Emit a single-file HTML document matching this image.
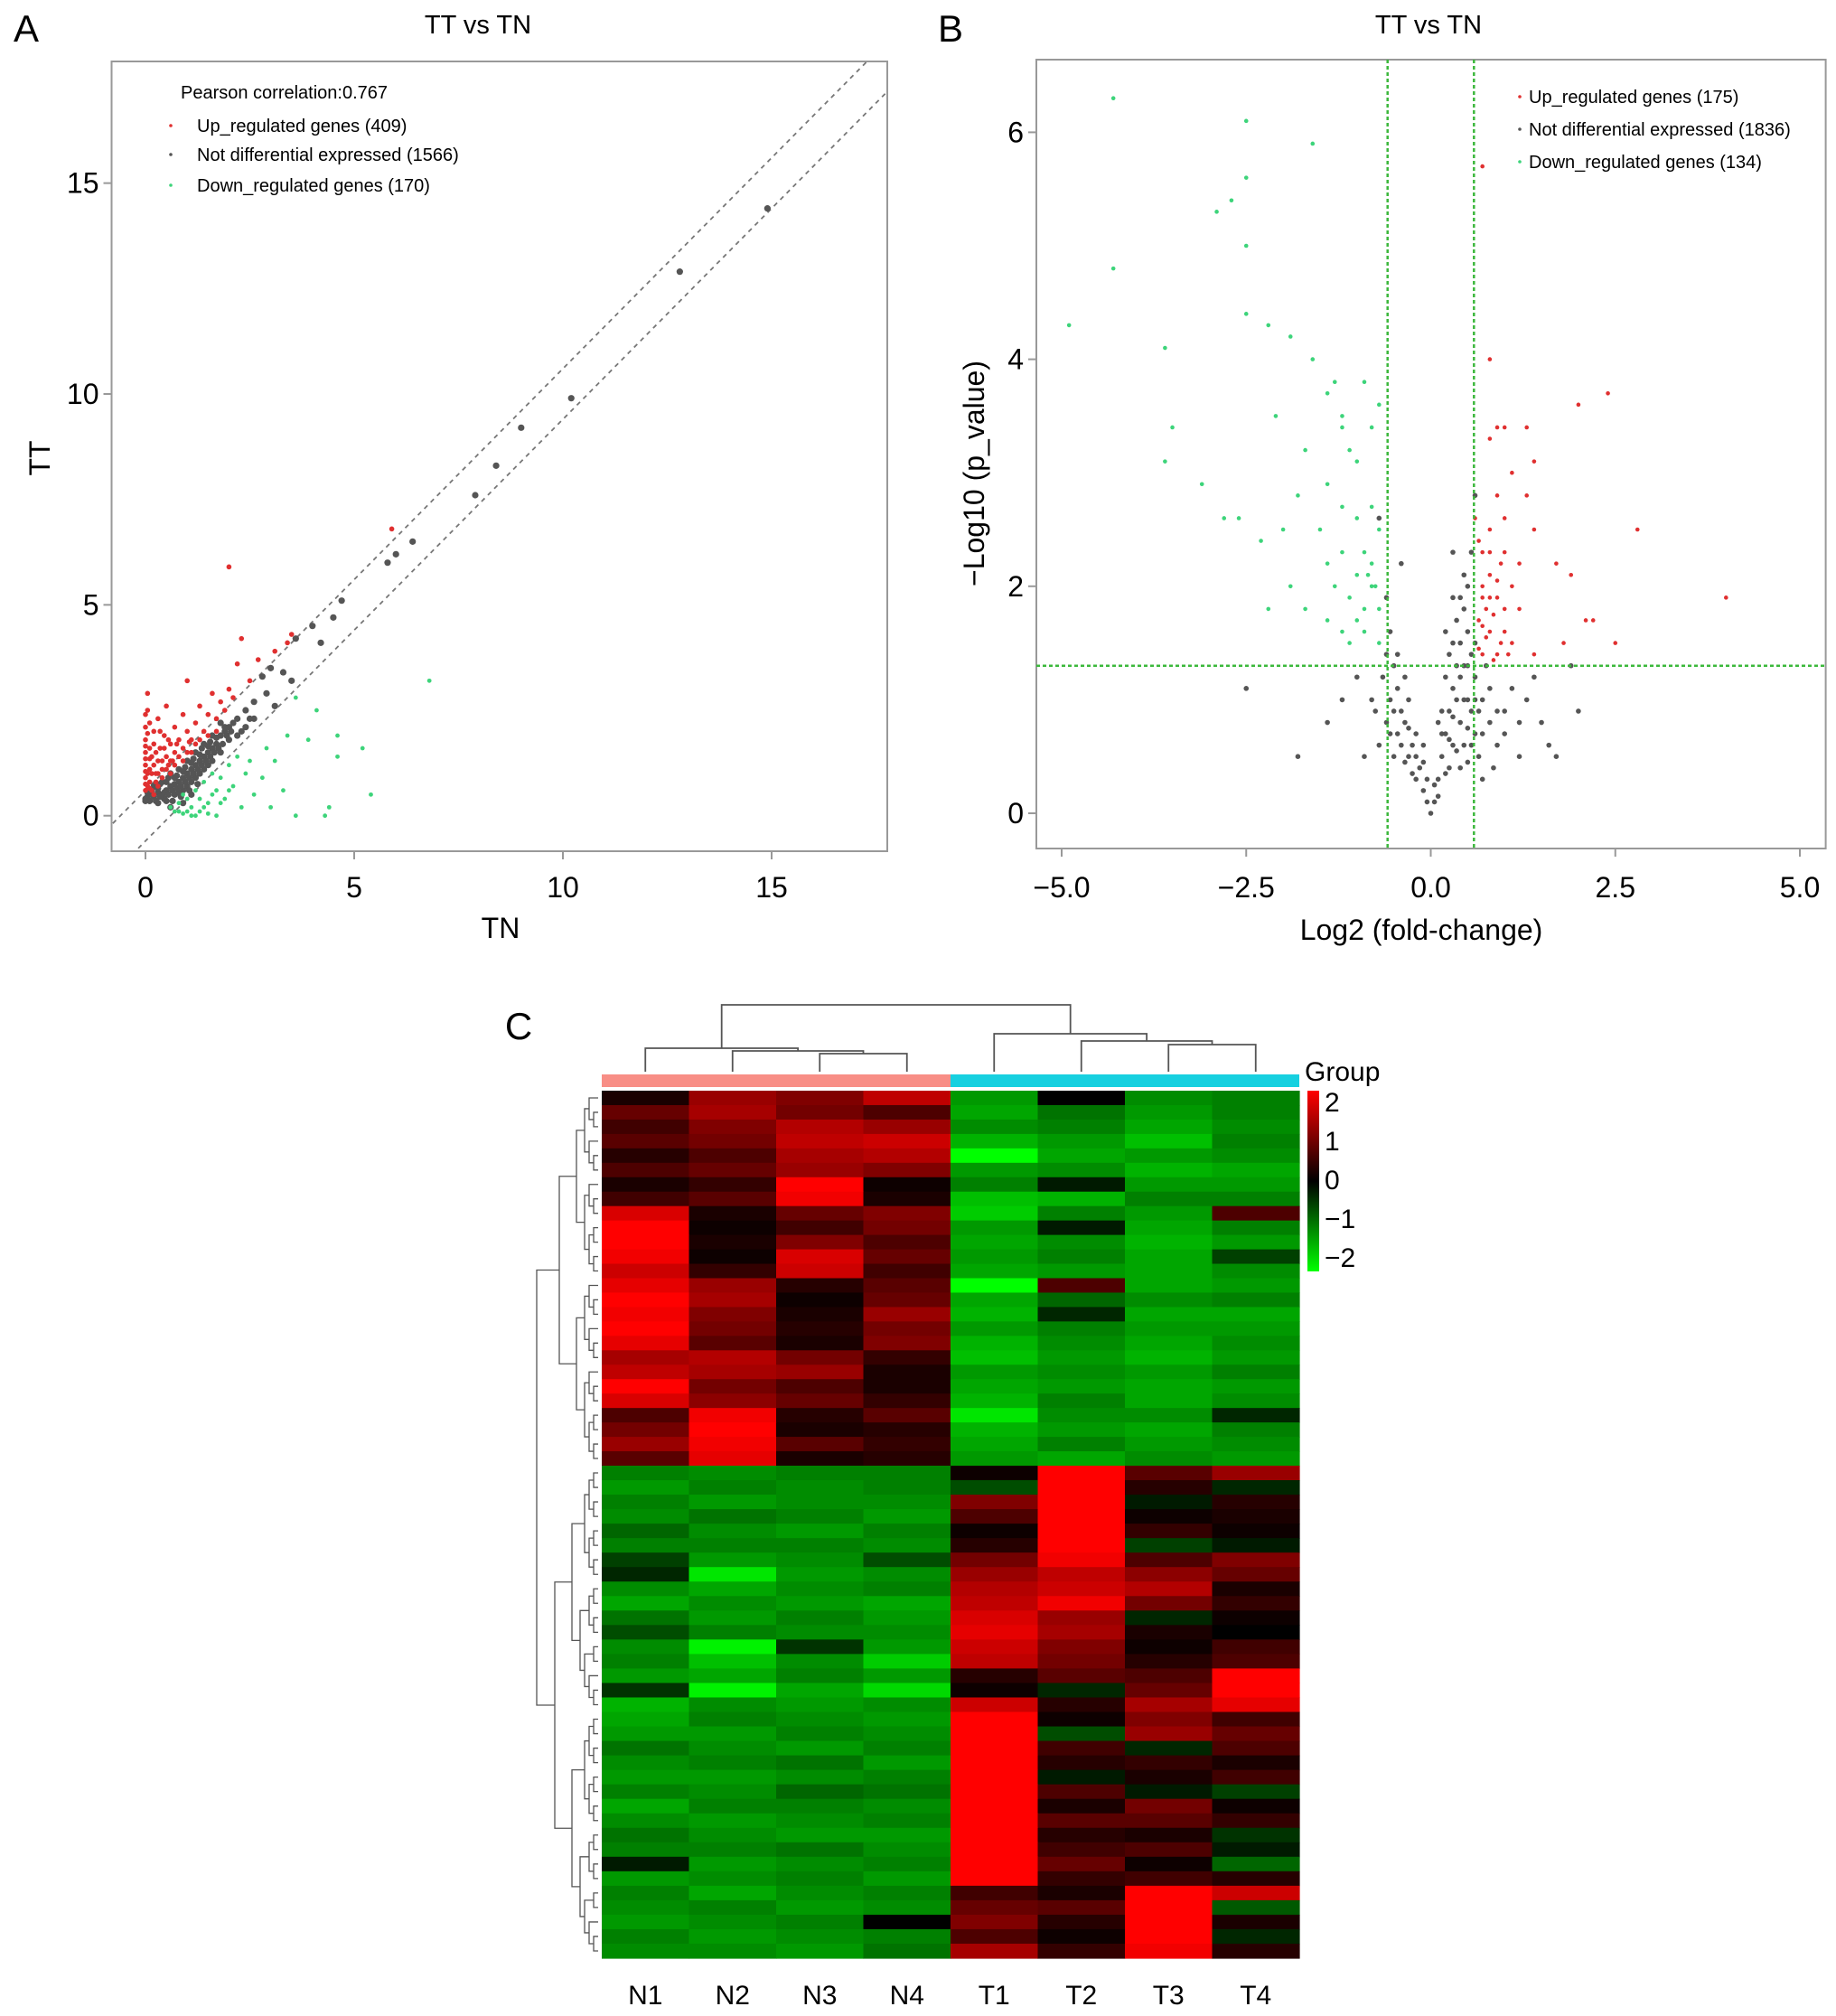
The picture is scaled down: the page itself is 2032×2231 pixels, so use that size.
<!DOCTYPE html>
<html><head><meta charset="utf-8"><style>
html,body{margin:0;padding:0;background:#fff}
svg{display:block;font-family:"Liberation Sans",Arial,sans-serif}
</style></head><body>
<svg id="fig" width="2032" height="2231" viewBox="0 0 2032 2231" xmlns="http://www.w3.org/2000/svg">
<rect width="2032" height="2231" fill="#fff"/>
<g id="pA"></g>
<g id="pB"></g>
<g id="pC"></g>
</svg>
<script>
// ===== Panel A data =====
const aXTicks=[0,5,10,15];
const aYTicks=[0,5,10,15];
const aUp=[[0,0.6],[0,0.9],[0,1.2],[0,1.5],[0,1.8],[0,2.1],[0.05,2.5],[0.05,2.9],[0.1,0.8],[0.1,1.1],[0.15,1.4],[0.2,1.7],[0.2,2.0],[0.25,1.0],[0.3,1.3],[0.3,2.3],[0.35,1.6],[0.4,1.1],[0.45,1.9],[0.5,1.4],[0.5,2.6],[0.55,1.2],[0.6,1.7],[0.7,2.1],[0.7,1.5],[0.8,1.8],[0.9,2.4],[0.9,1.6],[1.0,3.2],[1.0,2.0],[1.1,1.8],[1.2,2.2],[1.3,2.6],[1.4,2.0],[1.5,2.4],[1.6,2.9],[1.7,2.3],[1.8,2.7],[1.9,2.5],[2.0,5.9],[2.0,3.0],[2.1,2.8],[2.2,3.6],[2.3,4.2],[2.5,3.2],[2.7,3.7],[3.1,3.9],[3.5,4.3],[3.4,4.1],[5.9,6.8],[0.15,0.6],[0.3,0.7],[0.4,0.9],[0.6,1.0],[0.2,0.5],[0.05,1.0],[0.1,1.6],[0.2,1.2],[0.35,2.0],[0.65,1.3],[0.8,1.4],[1.2,1.7],[0.0,0.75],[0.1,1.35],[0.0,2.4],[0.05,0.7],[0.1,0.65],[0.15,1.0],[0.25,0.8],[0.3,1.0],[0.4,1.3],[0.5,1.1],[0.6,1.3],[0.7,1.2],[0.9,1.3],[1.0,1.5],[1.1,1.5],[1.3,1.8],[1.5,1.9],[1.7,2.0],[0.25,1.5],[0.45,1.6],[0.55,1.8],[0.75,1.7],[1.05,1.75],[0.0,1.05],[0.0,1.35],[0.0,1.65],[0.05,1.95],[0.1,2.2]];
const aNot=[[0,0.4],[0.05,0.45],[0.1,0.5],[0.2,0.45],[0.3,0.55],[0.4,0.5],[0.5,0.6],[0.6,0.7],[0.7,0.75],[0.8,0.8],[0.9,0.9],[1.0,1.0],[1.1,1.1],[1.2,1.2],[1.3,1.3],[1.4,1.4],[1.5,1.5],[1.6,1.6],[1.7,1.7],[1.8,1.9],[1.9,2.0],[2.0,2.1],[2.1,2.2],[2.2,2.3],[2.4,2.5],[0.3,0.3],[0.5,0.35],[0.6,0.2],[0.7,0.5],[0.8,0.55],[0.9,0.6],[1.0,0.7],[1.1,0.8],[1.2,0.9],[1.3,1.0],[1.4,1.1],[1.5,1.2],[1.6,1.3],[1.8,1.5],[2.0,1.8],[0.4,0.8],[0.6,1.0],[0.8,1.1],[1.0,1.3],[1.2,1.5],[1.4,1.7],[1.6,1.9],[1.8,2.2],[0.2,0.7],[0.35,0.75],[0.15,0.6],[0.45,0.4],[0.55,0.9],[0.75,0.95],[0.95,1.15],[1.15,1.35],[1.35,1.6],[1.55,1.75],[2.3,2.0],[2.6,2.7],[2.8,3.3],[3.0,3.5],[3.3,3.4],[3.6,4.2],[4.0,4.5],[4.2,4.1],[4.5,4.7],[4.7,5.1],[5.8,6.0],[6.0,6.2],[6.4,6.5],[7.9,7.6],[8.4,8.3],[9.0,9.2],[10.2,9.9],[12.8,12.9],[14.9,14.4],[3.1,2.6],[2.6,2.3],[3.5,3.2],[2.9,2.9],[0.9,0.3],[1.1,0.5],[0.1,0.35],[0.25,0.35],[0.35,0.45],[0.45,0.55],[0.55,0.5],[0.65,0.6],[0.75,0.65],[0.85,0.7],[0.95,0.8],[1.05,0.9],[1.15,1.0],[1.25,1.1],[1.35,1.2],[1.45,1.3],[1.55,1.4],[1.65,1.5],[1.75,1.6],[1.85,1.7],[1.95,1.9],[2.05,2.0],[0.5,0.8],[0.7,0.9],[0.9,1.05],[1.1,1.25],[1.3,1.45],[1.5,1.65],[1.7,1.85],[1.9,2.1],[0.65,0.35],[0.85,0.45],[1.05,0.6],[1.25,0.75],[0.3,0.65],[0.0,0.35],[0.05,0.55],[2.2,1.9],[2.4,2.1],[2.5,2.3]];
const aDown=[[0.7,0.1],[0.8,0.3],[0.9,0.05],[1.0,0.4],[1.1,0.2],[1.2,0.6],[1.3,0.1],[1.4,0.8],[1.5,0.3],[1.6,0.5],[1.7,0.0],[1.8,0.9],[1.9,0.4],[2.0,1.2],[2.1,0.7],[2.2,1.4],[2.3,0.2],[2.4,1.0],[2.5,1.3],[2.6,0.5],[2.8,0.9],[3.0,0.2],[3.1,1.3],[3.3,0.6],[3.4,1.9],[3.6,2.8],[3.9,1.8],[4.1,2.5],[4.4,0.2],[4.6,1.4],[4.6,1.9],[5.4,0.5],[6.8,3.2],[5.2,1.6],[0.6,0.2],[1.2,0.0],[1.6,1.0],[2.9,1.6],[4.3,0.0],[3.6,0.0],[1.0,0.1],[1.4,0.2],[1.7,0.6],[0.9,0.5],[1.3,0.4],[0.8,0.1],[1.1,0.0],[1.5,0.05],[1.8,0.3],[2.0,0.6]];
// ===== Panel B data =====
const bXTicks=[-5,-2.5,0,2.5,5];
const bYTicks=[0,2,4,6];
const bUp=[[0.7,5.7],[0.8,4.0],[2.4,3.7],[2.0,3.6],[1.0,3.4],[1.3,3.4],[0.8,3.3],[0.9,3.4],[1.4,3.1],[1.1,3.0],[1.3,2.8],[0.9,2.8],[0.6,2.6],[0.8,2.5],[1.0,2.6],[1.4,2.5],[2.8,2.5],[0.7,2.3],[1.0,2.3],[1.2,2.2],[1.7,2.2],[0.8,2.1],[1.1,2.0],[1.9,2.1],[0.7,1.9],[0.9,1.9],[1.0,1.8],[1.2,1.8],[4.0,1.9],[0.65,1.7],[0.8,1.6],[1.0,1.6],[2.1,1.7],[2.2,1.7],[1.8,1.5],[2.5,1.5],[0.7,1.4],[0.9,1.4],[1.1,1.5],[1.4,1.4],[0.75,1.8],[0.85,1.35],[0.7,2.0],[0.75,1.55],[0.95,2.2],[1.05,1.4],[0.65,2.4],[0.8,1.9],[0.7,1.65],[0.85,1.75],[0.95,1.5],[0.65,1.45],[0.8,2.3],[0.9,2.05]];
const bNot=[[0,0],[0.05,0.1],[-0.05,0.1],[0.1,0.3],[-0.1,0.2],[0.15,0.5],[-0.15,0.4],[0.2,0.7],[-0.2,0.3],[0.25,0.9],[-0.25,0.6],[0.3,1.1],[-0.3,0.5],[0.35,1.3],[-0.35,0.8],[0.4,1.5],[-0.4,0.9],[0.45,1.8],[-0.45,1.1],[0.5,2.0],[-0.5,1.3],[0.55,2.3],[-0.55,1.6],[0.6,2.8],[-0.6,1.9],[0.3,0.6],[0.4,0.8],[0.5,1.0],[0.6,1.2],[0.7,1.0],[0.8,0.8],[0.9,0.9],[1.0,0.7],[1.1,1.1],[1.2,0.5],[1.3,1.0],[1.5,0.8],[1.7,0.5],[2.0,0.9],[1.9,1.3],[-0.6,0.8],[-0.7,0.6],[-0.8,1.0],[-0.9,0.5],[-1.0,1.2],[-1.2,1.0],[-1.4,0.8],[-1.8,0.5],[-2.5,1.1],[-0.7,2.6],[-0.4,2.2],[0.3,2.3],[0.2,1.6],[0.1,0.8],[-0.1,0.6],[0.25,0.4],[0.45,0.6],[0.55,0.9],[0.65,0.5],[0.35,1.7],[0.5,1.6],[-0.5,0.5],[-0.65,1.2],[-0.75,0.9],[0.75,1.3],[0.85,0.4],[1.6,0.6],[1.4,1.2],[0.2,1.2],[0.3,1.5],[0.4,1.9],[0.45,1.3],[0.15,0.9],[-0.2,0.7],[-0.3,1.0],[-0.45,0.7],[0.6,0.7],[0.7,0.3],[0.55,1.4],[0.35,1.0],[0.05,0.25],[-0.05,0.3],[0.1,0.15],[-0.1,0.45],[0.2,0.35],[-0.2,0.5],[0.25,0.65],[-0.25,0.35],[0.3,0.85],[-0.3,0.75],[0.35,0.55],[-0.35,0.45],[0.4,1.2],[-0.4,0.6],[0.45,1.0],[0.5,1.3],[0.55,0.6],[0.6,1.5],[0.65,0.9],[0.7,0.7],[0.4,0.4],[0.5,0.75],[0.6,1.0],[0.3,1.9],[0.45,2.1],[0.5,0.45],[-0.55,1.0],[-0.6,1.4],[-0.5,0.9],[-0.45,1.4],[-0.35,1.2],[-0.55,0.7],[0.25,1.4],[0.15,0.7],[0.8,1.1],[0.9,0.6],[1.0,0.9],[1.2,0.8]];
const bDown=[[-4.3,6.3],[-2.5,6.1],[-1.6,5.9],[-2.5,5.6],[-2.7,5.4],[-2.9,5.3],[-2.5,5.0],[-4.3,4.8],[-4.9,4.3],[-2.5,4.4],[-2.2,4.3],[-1.9,4.2],[-3.6,4.1],[-1.6,4.0],[-1.3,3.8],[-0.9,3.8],[-1.4,3.7],[-0.7,3.6],[-3.5,3.4],[-2.1,3.5],[-1.2,3.5],[-1.2,3.4],[-0.8,3.4],[-1.1,3.2],[-1.7,3.2],[-3.6,3.1],[-1.0,3.1],[-3.1,2.9],[-1.4,2.9],[-1.8,2.8],[-1.2,2.7],[-0.8,2.7],[-2.8,2.6],[-1.0,2.6],[-2.6,2.6],[-1.5,2.5],[-0.7,2.5],[-2.3,2.4],[-2.0,2.5],[-1.2,2.3],[-0.9,2.3],[-1.4,2.2],[-0.8,2.2],[-1.0,2.1],[-0.75,2.0],[-1.9,2.0],[-1.3,2.0],[-2.2,1.8],[-1.7,1.8],[-1.1,1.9],[-0.9,1.8],[-1.2,1.6],[-0.9,1.6],[-1.4,1.7],[-0.7,1.5],[-1.1,1.5],[-0.8,2.0],[-0.85,2.1],[-1.0,1.7],[-0.7,1.8]];
// ===== Panel C data =====
const cCols=["N1","N2","N3","N4","T1","T2","T3","T4"];
const cLegendTicks=[2,1,0,-1,-2];
const cTop=[[0.2,1.2,1.0,1.5,-1.2,0.0,-1.1,-1.0],[0.8,1.3,0.9,0.6,-1.3,-0.9,-1.2,-1.0],[0.5,1.0,1.4,1.2,-1.1,-1.0,-1.3,-1.1],[0.7,0.9,1.5,1.6,-1.4,-1.2,-1.5,-1.0],[0.3,0.6,1.3,1.4,-2.0,-1.3,-1.2,-1.1],[0.6,0.8,1.2,1.0,-1.2,-1.1,-1.4,-1.3],[0.2,0.4,2.0,0.1,-1.0,-0.2,-1.2,-1.2],[0.5,0.7,1.9,0.2,-1.5,-1.4,-1.0,-1.0],[1.7,0.2,0.8,1.0,-1.6,-1.0,-1.2,0.6],[2.0,0.1,0.5,0.9,-1.2,-0.2,-1.3,-1.0],[2.0,0.2,1.0,0.6,-1.3,-1.1,-1.4,-1.2],[1.9,0.1,1.7,0.8,-1.2,-1.0,-1.3,-0.5],[1.6,0.4,1.6,0.5,-1.3,-1.2,-1.3,-1.1],[1.8,1.2,0.3,0.7,-2.0,0.6,-1.3,-1.2],[2.0,1.3,0.1,0.8,-1.3,-0.8,-1.1,-1.0],[1.9,1.0,0.2,1.2,-1.4,-0.3,-1.3,-1.3],[2.0,0.9,0.3,0.9,-1.2,-1.0,-1.2,-1.2],[1.8,0.7,0.2,1.0,-1.4,-1.1,-1.3,-1.1],[1.3,1.4,0.9,0.4,-1.5,-1.2,-1.4,-1.2],[1.5,1.3,1.2,0.2,-1.2,-1.1,-1.2,-1.0],[2.0,0.9,0.6,0.2,-1.3,-1.2,-1.3,-1.2],[1.7,1.1,0.8,0.4,-1.4,-1.0,-1.3,-1.1],[0.6,1.9,0.3,0.7,-1.8,-1.1,-1.1,-0.3],[0.9,2.0,0.2,0.3,-1.4,-1.2,-1.3,-1.0],[1.2,1.9,0.7,0.4,-1.3,-1.0,-1.2,-1.1],[0.7,1.8,0.2,0.3,-1.2,-1.3,-1.1,-1.2]];
const cBottom=[[-1.0,-1.1,-1.0,-1.0,0.1,2.0,0.7,1.2],[-1.2,-1.0,-1.1,-1.0,-0.6,2.0,0.3,-0.3],[-1.0,-1.2,-1.1,-1.1,1.0,2.0,-0.2,0.3],[-1.1,-0.9,-1.0,-1.2,0.6,2.0,0.1,0.2],[-0.8,-1.1,-1.2,-1.0,0.1,2.0,0.4,0.1],[-1.0,-1.0,-1.0,-1.1,0.3,2.0,-0.5,-0.2],[-0.5,-1.2,-1.1,-0.6,0.9,1.9,0.6,1.0],[-0.3,-1.8,-1.2,-1.1,1.2,1.5,1.1,0.8],[-1.1,-1.3,-1.1,-1.0,1.4,1.6,1.4,0.2],[-1.3,-1.1,-1.2,-1.3,1.5,1.9,0.9,0.4],[-0.9,-1.2,-1.0,-1.2,1.7,1.2,-0.3,0.1],[-0.6,-1.0,-1.1,-1.1,1.8,1.3,0.2,0.0],[-1.1,-1.9,-0.4,-1.2,1.6,1.0,0.1,0.5],[-1.0,-1.5,-1.1,-1.6,1.5,0.9,0.3,0.6],[-1.2,-1.3,-1.0,-1.2,0.3,0.7,0.6,2.0],[-0.4,-1.9,-1.3,-1.7,0.1,-0.3,0.8,2.0],[-1.4,-1.1,-1.2,-1.1,1.6,0.3,1.3,1.8],[-1.3,-1.0,-1.1,-1.2,2.0,0.1,1.0,0.5],[-1.2,-1.2,-1.0,-1.1,2.0,-0.6,1.2,0.8],[-0.9,-1.1,-1.2,-1.0,2.0,0.5,-0.3,0.6],[-1.1,-1.0,-0.9,-1.2,2.0,0.3,0.4,0.2],[-1.2,-1.2,-1.1,-1.0,2.0,-0.2,0.2,0.5],[-1.0,-1.1,-0.8,-0.9,2.0,0.6,-0.2,-0.5],[-1.3,-1.0,-1.0,-1.1,2.0,0.2,0.9,0.1],[-1.1,-1.2,-1.1,-1.0,2.0,0.7,0.7,0.4],[-0.9,-1.1,-1.2,-1.2,2.0,0.3,0.2,-0.4],[-1.0,-1.0,-0.9,-1.1,2.0,0.5,0.6,-0.2],[-0.2,-1.2,-1.1,-1.0,2.0,0.8,0.1,-0.8],[-1.2,-1.1,-1.0,-1.2,2.0,0.4,0.5,0.3],[-1.0,-1.3,-1.1,-1.0,0.5,0.2,2.0,1.6],[-1.1,-1.0,-1.2,-1.1,0.8,0.7,2.0,-0.7],[-1.2,-1.1,-1.0,0.0,1.0,0.3,2.0,0.2],[-1.0,-1.2,-1.1,-1.0,0.6,0.1,2.0,-0.3],[-1.1,-1.1,-1.2,-0.9,1.3,0.4,1.9,0.3]];

const NS="http://www.w3.org/2000/svg";
function mk(parent,tag,attrs,text){const e=document.createElementNS(NS,tag);for(const k in attrs)e.setAttribute(k,attrs[k]);if(text!==undefined)e.textContent=text;parent.appendChild(e);return e;}

// ---------- Panel A ----------
(function(){
const g=document.getElementById('pA');
const L=123.5,T=68,R=982,B=942;
const sx=v=>161+v*46.2, sy=v=>902.7-v*46.67;
let t=mk(g,'text',{x:29,y:46,'font-size':42,'text-anchor':'middle'},'A');

t=mk(g,'text',{x:529,y:37,'font-size':29,'text-anchor':'middle'},'TT vs TN');

let r=mk(g,'rect',{x:L,y:T,width:R-L,height:B-T,fill:'none',stroke:'#999','stroke-width':2});

const clip=mk(g,'clipPath',{id:'clipA'});mk(clip,'rect',{x:L,y:T,width:R-L,height:B-T});
const lg=mk(g,'g',{'clip-path':'url(#clipA)'});
[0.6,-0.6].forEach(o=>{const l=mk(lg,'line',{x1:sx(-2),y1:sy(-2+o),x2:sx(19),y2:sy(19+o),stroke:'#777','stroke-width':1.8,'stroke-dasharray':'5,5'});
});
aXTicks.forEach(v=>{mk(g,'line',{x1:sx(v),y1:B,x2:sx(v),y2:B+9,stroke:'#999','stroke-width':2});
const e=mk(g,'text',{x:sx(v),y:993,'font-size':32,'text-anchor':'middle'},String(v));
});
aYTicks.forEach(v=>{mk(g,'line',{x1:L-9,y1:sy(v),x2:L,y2:sy(v),stroke:'#999','stroke-width':2});
const e=mk(g,'text',{x:L-14,y:sy(v)+11,'font-size':32,'text-anchor':'end'},String(v));
});
t=mk(g,'text',{x:554,y:1038,'font-size':32,'text-anchor':'middle'},'TN');

t=mk(g,'text',{x:55,y:507,'font-size':32,'text-anchor':'middle',transform:'rotate(-90 55 507)'},'TT');

function pts(arr,col,rad,name){arr.forEach(p=>{const c=mk(lg,'circle',{cx:sx(p[0]),cy:sy(p[1]),r:rad,fill:col});
});}
pts(aNot,'#555',3.6,'point-not-diff');
pts(aUp,'#e03030',2.8,'point-up');
pts(aDown,'#3dd47a',2.4,'point-down');
t=mk(g,'text',{x:200,y:109,'font-size':20},'Pearson correlation:0.767');

[['Up_regulated genes (409)','#e03030',146],['Not differential expressed (1566)','#555',178],['Down_regulated genes (170)','#3dd47a',212]].forEach(([s,c,y])=>{
const le=mk(g,'g',{});
mk(le,'circle',{cx:189,cy:y-7,r:1.8,fill:c});mk(le,'text',{x:218,y:y,'font-size':20},s);});
})();

// ---------- Panel B ----------
(function(){
const g=document.getElementById('pB');
const L=1147,T=66,R=2020.6,B=939;
const sx=v=>1583.5+v*81.7, sy=v=>900-v*125.6;
let t=mk(g,'text',{x:1052,y:46,'font-size':42,'text-anchor':'middle'},'B');

t=mk(g,'text',{x:1581,y:37,'font-size':29,'text-anchor':'middle'},'TT vs TN');

let r=mk(g,'rect',{x:L,y:T,width:R-L,height:B-T,fill:'none',stroke:'#999','stroke-width':2});

bXTicks.forEach(v=>{mk(g,'line',{x1:sx(v),y1:B,x2:sx(v),y2:B+9,stroke:'#999','stroke-width':2});
const e=mk(g,'text',{x:sx(v),y:993,'font-size':32,'text-anchor':'middle'},(v<0?'\u2212':'')+Math.abs(v).toFixed(1));
});
bYTicks.forEach(v=>{mk(g,'line',{x1:L-9,y1:sy(v),x2:L,y2:sy(v),stroke:'#999','stroke-width':2});
const e=mk(g,'text',{x:L-14,y:sy(v)+11,'font-size':32,'text-anchor':'end'},String(v));
});
t=mk(g,'text',{x:1573,y:1040,'font-size':32,'text-anchor':'middle'},'Log2 (fold-change)');

t=mk(g,'text',{x:1089,y:524,'font-size':32,'text-anchor':'middle',transform:'rotate(-90 1089 524)'},'\u2212Log10 (p_value)');

function pts(arr,col,rad,name){arr.forEach(p=>{const c=mk(g,'circle',{cx:sx(p[0]),cy:sy(p[1]),r:rad,fill:col});
});}
pts(bNot,'#555',2.8,'point-not-diff');
pts(bUp,'#e03030',2.3,'point-up');
pts(bDown,'#3dd47a',2.3,'point-down');
const gl=[[sx(-0.585),T,sx(-0.585),B],[sx(0.585),T,sx(0.585),B],[L,sy(1.3),R,sy(1.3)]];
gl.forEach(a=>{const l=mk(g,'line',{x1:a[0],y1:a[1],x2:a[2],y2:a[3],stroke:'#3cb83c','stroke-width':2.5,'stroke-dasharray':'4,3'});
});
[['Up_regulated genes (175)','#e03030',114],['Not differential expressed (1836)','#555',150],['Down_regulated genes (134)','#3dd47a',186]].forEach(([s,c,y])=>{
const le=mk(g,'g',{});
mk(le,'circle',{cx:1682,cy:y-7,r:1.8,fill:c});mk(le,'text',{x:1692,y:y,'font-size':20},s);});
})();

// ---------- Panel C ----------
(function(){
const g=document.getElementById('pC');
const L=666,R=1438,T=1207,M=1622,B=2167;
const cw=(R-L)/cCols.length;
const cx=i=>L+cw*(i+0.5);
function color(v){v=Math.max(-2,Math.min(2,v));if(v>=0){return 'rgb('+Math.round(255*v/2)+',0,0)';}return 'rgb(0,'+Math.round(255*-v/2)+',0)';}
let t=mk(g,'text',{x:574,y:1150,'font-size':42,'text-anchor':'middle'},'C');

const rows=cTop.concat(cBottom);
const rowYs=[];
const th=(M-T)/cTop.length, bh=(B-M)/cBottom.length;
cTop.forEach((row,i)=>rowYs.push([T+i*th,th]));
cBottom.forEach((row,i)=>rowYs.push([M+i*bh,bh]));
rows.forEach((row,ri)=>{row.forEach((v,ci)=>{const c=mk(g,'rect',{x:L+ci*cw,y:rowYs[ri][0],width:cw+0.6,height:rowYs[ri][1]+0.6,fill:color(v)});
});});
let gb=mk(g,'rect',{x:L,y:1189,width:cw*4,height:14,fill:'#f88e86'});
gb=mk(g,'rect',{x:L+cw*4,y:1189,width:cw*4,height:14,fill:'#17d0e0'});
cCols.forEach((n,i)=>{const e=mk(g,'text',{x:cx(i),y:2218,'font-size':30,'text-anchor':'middle'},n);
});
const dg=mk(g,'g',{stroke:'#555','stroke-width':1.8,fill:'none'});
function link(x1,y1,x2,y2,h){mk(dg,'path',{d:`M${x1},${y1}V${h}H${x2}V${y2}`});}
const leaf=1186;
link(cx(2),leaf,cx(3),leaf,1166);const n34=(cx(2)+cx(3))/2;
link(cx(1),leaf,n34,1166,1163);const n234=(cx(1)+n34)/2;
link(cx(0),leaf,n234,1163,1160);const nN=(cx(0)+n234)/2;
link(cx(6),leaf,cx(7),leaf,1156);const t34=(cx(6)+cx(7))/2;
link(cx(5),leaf,t34,1156,1152);const t234=(cx(5)+t34)/2;
link(cx(4),leaf,t234,1152,1144);const nT=(cx(4)+t234)/2;
link(nN,1160,nT,1144,1112);
const rg=mk(g,'g',{stroke:'#555','stroke-width':1.3,fill:'none'});
function build(a,b,depth){
 if(b-a===1){return [rowYs[a][0]+rowYs[a][1]/2,662];}
 const m=Math.floor((a+b)/2);const l=build(a,m,depth+1),r=build(m,b,depth+1);
 const x=Math.min(l[1],r[1])-(b-a>12?9:5)-(depth<2?10:0);
 mk(rg,'path',{d:`M${l[1]},${l[0]}H${x}V${r[0]}H${r[1]}`});
 return [(l[0]+r[0])/2,x];}
const top=build(0,cTop.length,1),bot=build(cTop.length,rows.length,1);
mk(rg,'path',{d:`M${top[1]},${top[0]}H594V${bot[0]}H${bot[1]}`});
const lgd=mk(g,'defs',{});const grad=mk(lgd,'linearGradient',{id:'cg',x1:0,y1:0,x2:0,y2:1});
mk(grad,'stop',{offset:'0','stop-color':'#ff0000'});mk(grad,'stop',{offset:'0.5','stop-color':'#000'});mk(grad,'stop',{offset:'1','stop-color':'#00ff00'});
const cb=mk(g,'rect',{x:1447,y:1207,width:13,height:200,fill:'url(#cg)'});
t=mk(g,'text',{x:1444,y:1196,'font-size':30},'Group');
const ly=v=>1305-v*43;
cLegendTicks.forEach(v=>{const e=mk(g,'text',{x:1466,y:ly(v)+11,'font-size':30},(v<0?'\u2212':'')+Math.abs(v));
});
})();
</script>
</body></html>
